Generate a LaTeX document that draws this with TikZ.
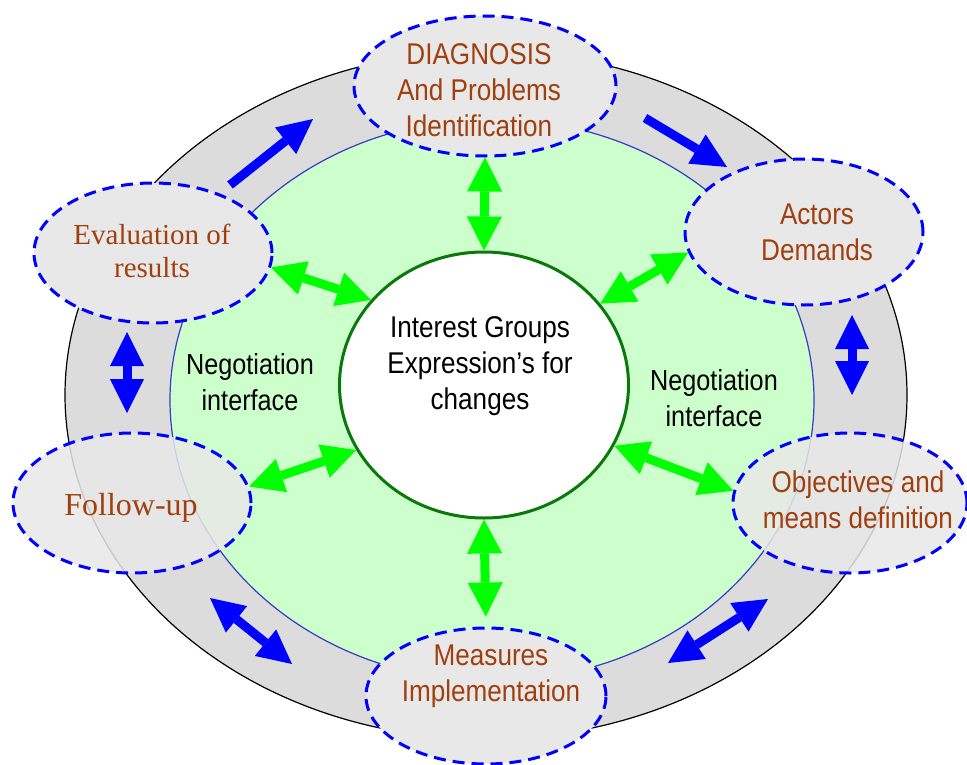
\documentclass[tikz,border=0pt]{standalone}
\usepackage{fontspec}
\setmainfont{Liberation Serif}
\newfontfamily\narrowsf[FakeStretch=0.87]{Liberation Sans}
\usetikzlibrary{arrows.meta,shapes.geometric}
\definecolor{ringgray}{HTML}{DCDCDC}
\definecolor{stagegray}{HTML}{E8E8E8}
\definecolor{mint}{HTML}{CCFFCC}
\definecolor{rust}{HTML}{A0400F}
\definecolor{lime}{HTML}{00FF00}
\definecolor{deepblue}{HTML}{0000FF}
\definecolor{rimblue}{HTML}{3A3AC8}
\definecolor{coregreen}{HTML}{0A780A}
\newcommand{\stagefont}{\narrowsf\fontsize{30bp}{36bp}\selectfont}
\newcommand{\serifstage}{\fontsize{29bp}{33bp}\selectfont}

\begin{document}
\begin{tikzpicture}[x=1bp,y=-1bp,
 stage/.style={ellipse,draw=deepblue,line width=3bp,
   dash pattern=on 12bp off 7bp,fill=stagegray,inner sep=0pt},
 stagetext/.style={rust,align=center,inner sep=0pt,font=\stagefont},
 note/.style={black,align=center,inner sep=0pt,
   font=\narrowsf\fontsize{29bp}{36bp}\selectfont},
 % Filled heads only: a stroked head would grow with the thick shaft.
 link/.style={lime,line width=9bp,
   {Triangle[length=34bp,width=35bp,line width=0pt]}-{Triangle[length=34bp,width=35bp,line width=0pt]}},
 flow/.style={deepblue,line width=9bp,
   -{Triangle[length=35bp,width=34bp,line width=0pt]}},
 swap/.style={deepblue,line width=9bp,
   {Triangle[length=34bp,width=34bp,line width=0pt]}-{Triangle[length=34bp,width=34bp,line width=0pt]}}]
\useasboundingbox (0,0) rectangle (967,765);

% Gray cycle ring with the green negotiation field inside it.
\draw[black,line width=1.2bp,fill=ringgray] (486,395) ellipse (421 and 344);
\draw[rimblue,line width=1.2bp,fill=mint] (492,400) ellipse (322 and 281);

\node[ellipse,draw=coregreen,line width=3bp,fill=white,inner sep=0pt,
  minimum width=289bp,minimum height=266bp] (core) at (484,385) {};
\node[black,align=center,inner sep=0pt,font=\narrowsf\fontsize{30bp}{36bp}\selectfont]
  (coretext) at (480,366) {Interest Groups\\Expression’s for\\changes};

\node[note] (negleft) at (250,382) {Negotiation\\interface};
\node[note] (negright) at (714,398) {Negotiation\\interface};

% Stages of the cycle; the two side ones let the ring show through.
\node[stage,minimum width=262bp,minimum height=140bp] (diag) at (485,86) {};
\node[stage,minimum width=238bp,minimum height=146bp] (actors) at (804,232) {};
\node[stage,fill opacity=0.85,minimum width=234bp,minimum height=140bp]
  (goals) at (850,503) {};
\node[stage,minimum width=240bp,minimum height=136bp] (measures) at (486,696) {};
\node[stage,fill opacity=0.85,minimum width=238bp,minimum height=140bp]
  (followup) at (132,503) {};
\node[stage,minimum width=238bp,minimum height=140bp] (evaluation) at (153,253) {};

\node[stagetext] (diagtext) at (479,90) {DIAGNOSIS\\And Problems\\Identification};
\node[stagetext] (actorstext) at (817,232) {Actors\\Demands};
\node[stagetext] (goalstext) at (858,500) {Objectives and\\means definition};
\node[stagetext] (measurestext) at (491,676) {Measures\\Implementation};
\node[rust,align=center,inner sep=0pt,font=\fontsize{32bp}{36bp}\selectfont]
  (followuptext) at (131,508) {Follow-up};
\node[rust,align=center,inner sep=0pt,font=\serifstage]
  (evaluationtext) at (152,251) {Evaluation of\\results};

% Each stage talks to the interest groups in the middle.
\draw[link] (diag.south) -- (core.north);
\draw[link,shorten >=10bp] (core.south) -- (measures.north);
\draw[link] (evaluation.-7) -- (core.143);
\draw[link] (actors.-170) -- (core.35);
\draw[link] (followup.8) -- (core.-153);
\draw[link] (goals.174) -- (core.-25);

% Steps round the ring.
\coordinate (evA) at (230,185); \coordinate (evB) at (313,119);
\coordinate (diA) at (645,118); \coordinate (diB) at (727,167);
\coordinate (acA) at (852,315); \coordinate (acB) at (852,395);
\coordinate (obA) at (768,599); \coordinate (obB) at (668,663);
\coordinate (meA) at (292,664); \coordinate (meB) at (210,598);
\coordinate (foA) at (127,413); \coordinate (foB) at (127,332);
\draw[flow] (evA) -- (evB);
\draw[flow] (diA) -- (diB);
\draw[swap] (acA) -- (acB);
\draw[swap] (obA) -- (obB);
\draw[swap] (meA) -- (meB);
\draw[swap] (foA) -- (foB);
\end{tikzpicture}
\end{document}
